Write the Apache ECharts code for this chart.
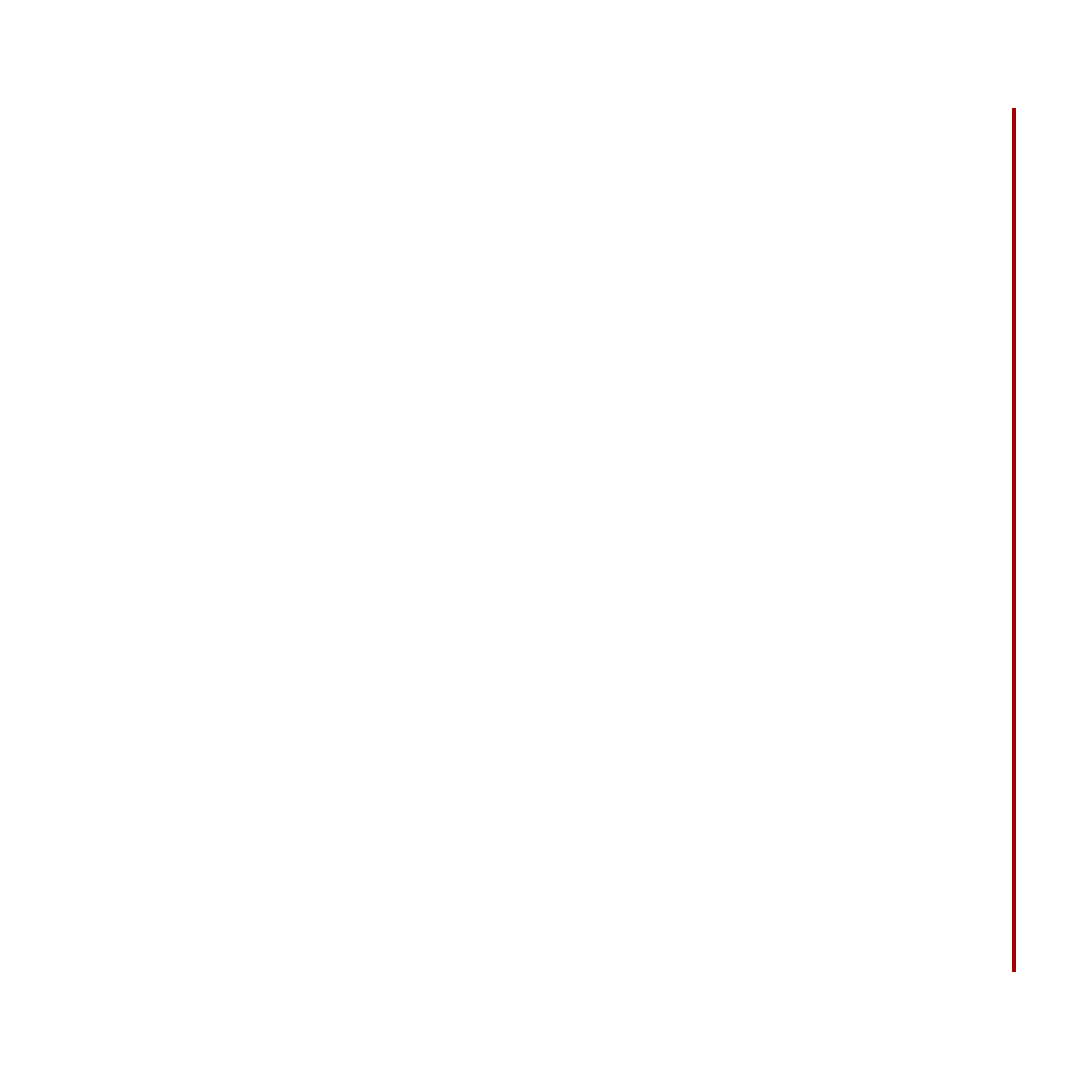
<!DOCTYPE html>
<html>
<head>
<meta charset="utf-8">
<script src="https://cdn.jsdelivr.net/npm/echarts@6/dist/echarts.min.js"></script>
<style>
   html, body { margin: 0; padding: 0; background: #ffffff; }
   #chart { width: 1080px; height: 1080px; }
</style>
</head>
<body>
<div id="chart"></div>
<script>
   // single vertical mark at the right end of the x range
   let xValues = [100, 100];
   let yValues = [0, 100];

   let points = xValues.map(function(x, i) {
      return [x, yValues[i]];
   });

   let myChart = echarts.init(document.getElementById("chart"));
   myChart.setOption({
      backgroundColor: "#ffffff",
      animation: false,
      grid: { left: 108, right: 66, top: 108, bottom: 108 },
      xAxis: { type: "value", min: 0, max: 100, show: false },
      yAxis: { type: "value", min: 0, max: 100, show: false },
      series: [
         {
            type: "line",
            data: points,
            symbol: "none",
            lineStyle: { color: "#a30000", width: 4, cap: "butt" }
         }
      ]
   });
</script>
</body>
</html>
